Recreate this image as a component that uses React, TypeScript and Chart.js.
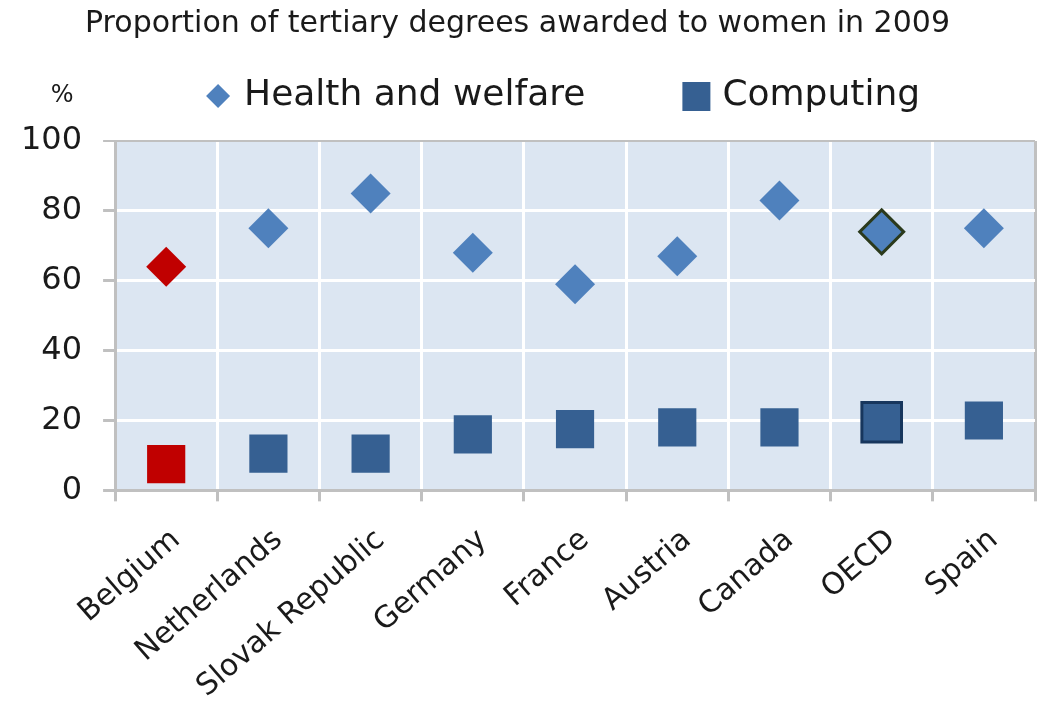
import React, { useEffect, useRef } from 'react';
import { Chart, registerables } from 'chart.js';

Chart.register(...registerables);

// ---- data ----
const categories = ['Belgium', 'Netherlands', 'Slovak Republic', 'Germany', 'France', 'Austria', 'Canada', 'OECD', 'Spain'];
const healthValues = [64, 75, 85, 68, 59, 67, 83, 74, 75];
const computingValues = [7.5, 10.5, 10.5, 16, 17.5, 18, 18, 19.5, 20];
const yTicks = [0, 20, 40, 60, 80, 100];
const seriesNames = ['Health and welfare', 'Computing'];
const titleText = 'Proportion of tertiary degrees awarded to women in 2009';
const unitLabel = '%';
const highlightCountry = 'Belgium';
const averageCategory = 'OECD';

// ---- styles ----
const FONT = '"DejaVu Sans", sans-serif';
const HEALTH_COLOR = '#4f81bd';
const COMPUTING_COLOR = '#366092';
const HIGHLIGHT_COLOR = '#c00000';
const OECD_HEALTH_BORDER = '#2b3a1c';
const OECD_COMP_BORDER = '#17365d';
const PLOT_BG = '#dce6f2';
const AXIS_GRAY = '#c0c0c0';
const TEXT_COLOR = '#1a1a1a';

const plotBackground = {
  id: 'plotBackground',
  beforeDraw(chart: any) {
    const { ctx, chartArea, width, height } = chart;
    ctx.save();
    ctx.fillStyle = '#ffffff';
    ctx.fillRect(0, 0, width, height);
    ctx.fillStyle = PLOT_BG;
    ctx.fillRect(chartArea.left, chartArea.top, chartArea.right - chartArea.left, chartArea.bottom - chartArea.top);
    ctx.restore();
  },
};

const customLegend = {
  id: 'customLegend',
  afterDraw(chart: any) {
    const { ctx, chartArea } = chart;
    const y = chartArea.top - 45;
    ctx.save();
    ctx.textBaseline = 'middle';
    // unit label
    ctx.fillStyle = TEXT_COLOR;
    ctx.font = `24px ${FONT}`;
    ctx.textAlign = 'center';
    ctx.fillText(unitLabel, chartArea.left - 53, y);
    // legend items
    ctx.font = `36px ${FONT}`;
    ctx.textAlign = 'left';
    let x = chartArea.left + 103;
    // diamond
    ctx.fillStyle = HEALTH_COLOR;
    ctx.beginPath();
    ctx.moveTo(x, y - 12);
    ctx.lineTo(x + 12, y);
    ctx.lineTo(x, y + 12);
    ctx.lineTo(x - 12, y);
    ctx.closePath();
    ctx.fill();
    ctx.fillStyle = TEXT_COLOR;
    ctx.fillText(seriesNames[0], x + 26, y);
    const w0 = ctx.measureText(seriesNames[0]).width;
    x = x + 26 + w0 + 111;
    ctx.fillStyle = COMPUTING_COLOR;
    ctx.fillRect(x - 14, y - 14, 28, 29);
    ctx.fillStyle = TEXT_COLOR;
    ctx.fillText(seriesNames[1], x + 26, y);
    ctx.restore();
  },
};

export default function App() {
  const ref = useRef<HTMLCanvasElement>(null);

  useEffect(() => {
    const canvas = ref.current;
    if (!canvas) return;
    const isHi = (c: string) => c === highlightCountry;
    const isAvg = (c: string) => c === averageCategory;
    const chart = new Chart(canvas, {
      type: 'line',
      data: {
        labels: categories,
        datasets: [
          {
            label: seriesNames[0],
            data: healthValues,
            showLine: false,
            pointStyle: 'rectRot',
            pointRadius: categories.map((c) => (isAvg(c) ? 22 : 20)),
            pointHoverRadius: categories.map((c) => (isAvg(c) ? 22 : 20)),
            pointBackgroundColor: categories.map((c) => (isHi(c) ? HIGHLIGHT_COLOR : HEALTH_COLOR)),
            pointBorderColor: categories.map((c) => (isAvg(c) ? OECD_HEALTH_BORDER : 'rgba(0,0,0,0)')),
            pointBorderWidth: categories.map((c) => (isAvg(c) ? 3 : 0)),
          },
          {
            label: seriesNames[1],
            data: computingValues,
            showLine: false,
            pointStyle: 'rect',
            pointRadius: categories.map((c) => (isAvg(c) ? 28 : 27)),
            pointHoverRadius: categories.map((c) => (isAvg(c) ? 28 : 27)),
            pointBackgroundColor: categories.map((c) => (isHi(c) ? HIGHLIGHT_COLOR : COMPUTING_COLOR)),
            pointBorderColor: categories.map((c) => (isAvg(c) ? OECD_COMP_BORDER : 'rgba(0,0,0,0)')),
            pointBorderWidth: categories.map((c) => (isAvg(c) ? 3 : 0)),
          },
        ],
      },
      options: {
        responsive: false,
        animation: false,
        devicePixelRatio: 1,
        layout: { autoPadding: false, padding: { left: 0, right: 8, top: 0, bottom: -25 } },
        plugins: {
          legend: { display: false },
          tooltip: { enabled: false },
          title: {
            display: true,
            text: titleText,
            color: TEXT_COLOR,
            font: { family: FONT, size: 30, weight: 'normal' },
            padding: { top: 6, bottom: 99 },
          },
        },
        scales: {
          x: {
            type: 'category',
            offset: true,
            afterFit: (scale: any) => {
              scale.paddingRight = 0;
            },
            grid: {
              offset: true,
              color: (ctx: any) => (ctx.type === 'tick' ? '#ffffff' : AXIS_GRAY),
              lineWidth: 3,
              tickColor: AXIS_GRAY,
              tickLength: 11,
            },
            border: { color: AXIS_GRAY, width: 3 },
            ticks: {
              color: TEXT_COLOR,
              font: { family: FONT, size: 30 },
              maxRotation: 41,
              minRotation: 41,
              padding: 21,
              labelOffset: 10,
              autoSkip: false,
            },
          },
          y: {
            min: 0,
            max: 100,
            afterBuildTicks: (scale: any) => {
              scale.ticks = yTicks.map((v) => ({ value: v }));
            },
            grid: {
              color: (ctx: any) => (ctx.tick && ctx.tick.value === 100 ? AXIS_GRAY : '#ffffff'),
              lineWidth: (ctx: any) => (ctx.tick && ctx.tick.value === 100 ? 2 : 3),
              tickColor: AXIS_GRAY,
              tickLength: 12,
            },
            border: { color: AXIS_GRAY, width: 3 },
            ticks: {
              color: TEXT_COLOR,
              font: { family: FONT, size: 32 },
              padding: 21,
            },
          },
        },
      },
      plugins: [plotBackground, customLegend],
    } as any);
    return () => chart.destroy();
  }, []);

  return (
    <div style={{ position: 'fixed', left: 0, top: 0, width: 1043, height: 701, background: '#fff' }}>
      <canvas ref={ref} width={1043} height={701} style={{ display: 'block', width: 1043, height: 701 }} />
    </div>
  );
}
